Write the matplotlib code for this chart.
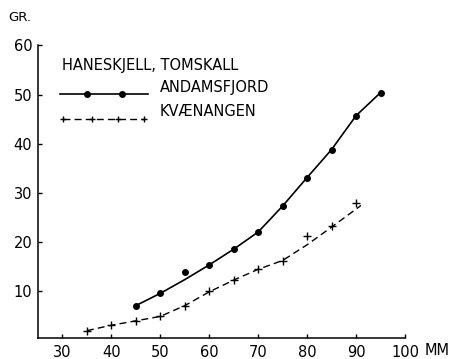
import numpy as np
import matplotlib.pyplot as plt
from matplotlib.lines import Line2D

plt.rcParams['font.family'] = ['DejaVu Sans']

# Andamsfjord: målte vekter (GR.) mot lengde (MM) og tilpasset kurve
andam_x = [45, 50, 55, 60, 65, 70, 75, 80, 85, 90, 95]
andam_y = [7.0, 9.5, 13.9, 15.3, 18.5, 22.0, 27.3, 33.1, 38.8, 45.7, 50.4]
andam_kurve_x = [45, 50, 55, 60, 65, 70, 75, 80, 85, 90, 95]
andam_kurve_y = [7.0, 9.5, 12.3, 15.3, 18.5, 22.0, 27.3, 33.1, 38.8, 45.7, 50.4]

# Kvænangen: målte vekter og tilpasset kurve
kvae_x = [35, 40, 45, 50, 55, 60, 65, 70, 75, 80, 85, 90]
kvae_y = [1.9, 3.0, 3.9, 4.8, 7.0, 10.0, 12.2, 14.4, 16.1, 21.2, 23.2, 28.0]
kvae_kurve_x = [35, 40, 45, 50, 55, 60, 65, 70, 75, 80, 85, 91]
kvae_kurve_y = [1.9, 3.0, 3.9, 4.8, 7.0, 9.8, 12.2, 14.4, 16.2, 19.4, 23.0, 27.4]

x_ticks = [30, 40, 50, 60, 70, 80, 90, 100]
y_ticks = [10, 20, 30, 40, 50, 60]

fig = plt.figure(figsize=(4.5, 3.59), dpi=100)
ax = fig.add_axes([0.0844, 0.0585, 0.8156, 0.8148])

# kurver
ax.plot(andam_kurve_x, andam_kurve_y, color='black', lw=1.2)
ax.plot(andam_x, andam_y, 'o', color='black', ms=4)
ax.plot(kvae_kurve_x, kvae_kurve_y, color='black', lw=1.0, dashes=(5, 3))
ax.plot(kvae_x, kvae_y, '+', color='black', ms=5.5, mew=1.0)

ax.set_xlim(25, 100)
ax.set_ylim(0.4, 60)
ax.set_xticks(x_ticks)
ax.set_yticks(y_ticks)
ax.tick_params(axis='both', direction='in', length=3, width=1, labelsize=10.5)
ax.tick_params(axis='x', pad=5)
ax.tick_params(axis='y', pad=4)
for s in ['top', 'right']:
    ax.spines[s].set_visible(False)
for s in ['left', 'bottom']:
    ax.spines[s].set_linewidth(1.1)

# forklaring
ax.text(0.065, 0.930, 'HANESKJELL, TOMSKALL', transform=ax.transAxes,
        fontsize=10.5, va='center', ha='left')
ax.add_line(Line2D([0.06, 0.30], [0.833, 0.833], transform=ax.transAxes,
                   color='black', lw=1.2))
ax.add_line(Line2D([0.1335, 0.2289], [0.833, 0.833], transform=ax.transAxes,
                   ls='none', marker='o', ms=4, color='black'))
ax.text(0.332, 0.858, 'ANDAMSFJORD', transform=ax.transAxes,
        fontsize=10.5, va='center', ha='left')
ax.add_line(Line2D([0.068, 0.289], [0.749, 0.749], transform=ax.transAxes,
                   color='black', lw=1.0, dashes=(5, 3)))
ax.add_line(Line2D([0.068, 0.147, 0.218, 0.289], [0.749] * 4,
                   transform=ax.transAxes, ls='none', marker='+', ms=5,
                   mew=1.0, color='black'))
ax.text(0.332, 0.773, 'KVÆNANGEN', transform=ax.transAxes,
        fontsize=10.5, va='center', ha='left')

# enheter
fig.text(0.018, 0.95, 'GR.', fontsize=9.5, va='center', ha='left')
fig.text(0.944, 0.0225, 'MM', fontsize=10.5, va='center', ha='left')

plt.savefig('out.png', dpi=100)
plt.close()
